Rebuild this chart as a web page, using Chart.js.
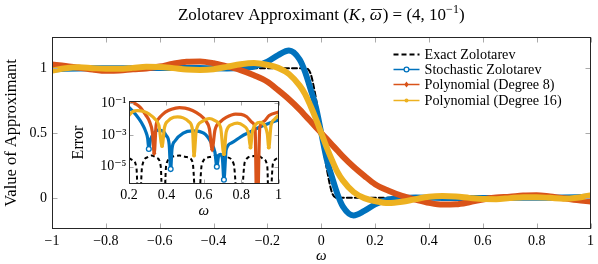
<!DOCTYPE html>
<html><head><meta charset="utf-8">
<script src="https://cdn.jsdelivr.net/npm/chart.js@4.4.0/dist/chart.umd.min.js"></script>
<style>
html,body{margin:0;padding:0;background:#fff;}
#wrap{position:relative;width:598px;height:264px;overflow:hidden;}
#main{position:absolute;left:0;top:0;width:598px;height:264px;}
#inset{position:absolute;left:66px;top:90px;width:219px;height:130px;}
</style></head><body>
<div id="wrap"><canvas id="main" width="598" height="264"></canvas><canvas id="inset" width="219" height="130"></canvas></div>
<script>
// ---------- data ----------
const seriesNames = ['Exact Zolotarev','Stochastic Zolotarev','Polynomial (Degree 8)','Polynomial (Degree 16)'];
// title pieces: [text, italic?, overline?, superscript?]
const titlePieces = [['Zolotarev Approximant (',0,0,0],['K',1,0,0],[', ',0,0,0],['\u03c9',1,1,0],[') = (4, 10',0,0,0],['\u22121',0,0,1],[')',0,0,0]];

const omegaMain = [-1,-0.95,-0.9,-0.85,-0.8,-0.75,-0.7,-0.65,-0.6,-0.55,-0.5,-0.45,-0.4,-0.35,-0.3,-0.25,-0.2,
  -0.16,-0.12,-0.08,-0.06,-0.04,-0.02,0,0.02,0.04,0.06,0.08,0.12,0.16,
  0.2,0.25,0.3,0.35,0.4,0.45,0.5,0.55,0.6,0.65,0.7,0.75,0.8,0.85,0.9,0.95,1];
const exactMain = [1,1,1,1,1,1,1,1,1,1,1,1,1,1,1,1,1,
  1,1,1,1,0.96,0.77,0.5,0.23,0.04,0,0,0,0,
  0,0,0,0,0,0,0,0,0,0,0,0,0,0,0,0,0];
const stochMain = [0.991,0.9944,0.997,0.9984,0.9992,0.9995,1.0,1.0003,1.0013,1.0018,1.0017,1.001,0.999,0.998,1.001,1.012,1.05,
  1.1,1.135,1.065,0.97,0.84,0.7,0.5,0.3,0.16,0.03,-0.065,-0.135,-0.1,
  -0.05,-0.012,-0.001,0.002,0.001,-0.001,-0.0017,-0.0018,-0.0013,-0.0003,0.0,0.0005,0.0008,0.0016,0.003,0.0056,0.009];
const poly8Main = [1.028,1.017,1.003,0.99,0.979,0.981,0.991,0.998,1.012,1.034,1.05,1.052,1.038,1.013,0.985,0.945,0.895,
  0.83,0.76,0.68,0.635,0.59,0.545,0.5,0.455,0.41,0.365,0.32,0.24,0.17,
  0.105,0.055,0.015,-0.013,-0.038,-0.052,-0.05,-0.034,-0.012,0.002,0.009,0.019,0.021,0.01,-0.003,-0.017,-0.028];
const poly16Main = [0.982,0.999,1.006,1.0,0.995,0.995,1.002,1.01,1.009,1.0,0.989,0.986,0.992,1.01,1.03,1.04,1.025,
  1.002,0.955,0.865,0.8,0.71,0.61,0.5,0.39,0.29,0.2,0.135,0.045,-0.002,
  -0.025,-0.04,-0.03,-0.01,0.008,0.014,0.011,0.0,-0.009,-0.01,-0.002,0.005,0.005,0.0,-0.006,0.001,0.018];

const mainXTicks = [-1,-0.8,-0.6,-0.4,-0.2,0,0.2,0.4,0.6,0.8,1];
const mainYTicks = [0,0.5,1];

// inset (error) data
const errOmegaExact = [0.2,0.22,0.24,0.253,0.27,0.3,0.32,0.35,0.37,0.382,0.4,0.44,0.47,0.51,0.54,0.565,0.59,0.63,0.67,0.72,0.76,0.79,0.82,0.86,0.89,0.92,0.94,0.95,0.97,1];
const errExact = [3.5e-5,2.5e-5,8e-6,1e-9,1e-5,4e-5,5e-5,3.5e-5,1e-5,1e-9,1.5e-5,4.5e-5,5e-5,4e-5,2e-5,1e-9,1.5e-5,4e-5,5e-5,4e-5,1.5e-5,1e-9,2e-5,4.5e-5,5e-5,3e-5,1e-5,1e-9,1.5e-5,3.5e-5];
const errOmegaStoch = [0.2,0.22,0.24,0.26,0.275,0.29,0.3,0.306,0.315,0.33,0.355,0.38,0.4,0.415,0.423,0.43,0.445,0.49,0.54,0.6,0.64,0.66,0.67,0.68,0.69,0.7,0.708,0.72,0.75,0.8,0.85,0.9,0.95,1];
const errStoch = [5.6e-2,3.2e-2,1.7e-2,8e-3,4e-3,1.6e-3,6e-4,1.3e-4,5e-4,1.1e-3,2e-3,1.8e-3,9e-4,2.5e-4,7e-6,1.3e-4,4e-4,1.3e-3,1.8e-3,1.3e-3,3.2e-4,8e-5,1e-5,5e-5,6e-5,3e-5,1.5e-6,1.2e-4,3.2e-4,8e-4,1.6e-3,3.2e-3,5.6e-3,9e-3];
const errOmegaPoly8 = [0.2,0.23,0.26,0.29,0.31,0.325,0.335,0.345,0.36,0.38,0.41,0.45,0.47,0.5,0.54,0.58,0.61,0.63,0.645,0.66,0.69,0.72,0.77,0.8,0.83,0.86,0.875,0.885,0.9,0.92,0.95,1];
const errPoly8 = [0.16,0.1,0.056,0.018,0.007,0.0015,7e-5,0.004,0.011,0.02,0.035,0.05,0.053,0.05,0.035,0.018,0.008,0.0025,1.2e-4,0.002,0.007,0.013,0.021,0.02,0.014,0.006,0.002,1e-9,0.003,0.007,0.017,0.028];
const errOmegaPoly16 = [0.2,0.22,0.245,0.28,0.31,0.34,0.36,0.377,0.39,0.41,0.44,0.46,0.49,0.52,0.54,0.548,0.56,0.59,0.63,0.66,0.69,0.708,0.72,0.75,0.78,0.81,0.84,0.85,0.86,0.88,0.9,0.92,0.94,0.948,0.96,0.98,1];
const errPoly16 = [0.017,0.03,0.035,0.03,0.02,0.01,0.004,2e-4,0.003,0.008,0.013,0.014,0.012,0.007,0.002,5e-5,0.002,0.007,0.011,0.008,0.003,6e-5,0.0015,0.0045,0.0056,0.004,0.0012,1.6e-4,0.0015,0.005,0.0063,0.005,0.0012,1.6e-4,0.004,0.01,0.018];

const errXTicks = [0.2,0.4,0.6,0.8,1];
const errYTicks = [1e-5,1e-3,1e-1];
const errYTickLabels = ['10\u207b\u2075','10\u207b\u00b3','10\u207b\u00b9'];

// ---------- helpers ----------
const FONT = "'Liberation Serif','DejaVu Serif',serif";
const C_BLUE = '#0072BD', C_RED = '#D95319', C_YEL = '#EDB120';
const pairs = (xs, ys) => xs.map((x, i) => ({x, y: ys[i]}));
const fmtTick = v => { const r = Math.round(v * 10) / 10; return r < 0 ? '\u2212' + String(-r) : String(r); };

const titlePlugin = {
  id: 'mathTitle',
  afterDraw(chart) {
    const {ctx, chartArea: a} = chart;
    const size = 17, supSize = 12, baseY = 20;
    const fontOf = (it, sup) => (it ? 'italic ' : '') + (sup ? supSize : size) + 'px ' + FONT;
    ctx.save();
    let total = 0;
    const widths = titlePieces.map(p => { ctx.font = fontOf(p[1], p[3]); const w = ctx.measureText(p[0]).width + (p[1] ? 1 : 0); total += w; return w; });
    let x = (a.left + a.right) / 2 - total / 2;
    ctx.fillStyle = '#000'; ctx.textBaseline = 'alphabetic'; ctx.textAlign = 'left';
    titlePieces.forEach((p, i) => {
      ctx.font = fontOf(p[1], p[3]);
      const y = p[3] ? baseY - 7 : baseY;
      ctx.fillText(p[0], x, y);
      if (p[2]) {
        ctx.strokeStyle = '#000'; ctx.lineWidth = 0.9;
        ctx.beginPath(); ctx.moveTo(x + 1.5, baseY - 10.5); ctx.lineTo(x + widths[i] - 0.5, baseY - 10.5); ctx.stroke();
      }
      x += widths[i];
    });
    ctx.restore();
  }
};

const framePlugin = {
  id: 'frame',
  beforeDraw(chart, args, opts) {
    if (opts.fill) {
      const a = chart.chartArea, ctx = chart.ctx;
      ctx.save(); ctx.fillStyle = '#fff';
      ctx.fillRect(a.left, a.top, a.right - a.left, a.bottom - a.top);
      ctx.restore();
    }
  },
  afterDraw(chart, args, opts) {
    const a = chart.chartArea, ctx = chart.ctx;
    const L = Math.round(a.left) + 0.5, R = Math.round(a.right) - 0.5, T = Math.round(a.top) + 0.5, B = Math.round(a.bottom) - 0.5;
    ctx.save();
    ctx.strokeStyle = '#aaaaaa'; ctx.lineWidth = 1;
    const tl = opts.tickLen || 5;
    const xs = chart.scales.x, ys = chart.scales.y;
    ctx.beginPath();
    xs.ticks.forEach(t => {
      const px = Math.round(xs.getPixelForValue(t.value)) + 0.5;
      ctx.moveTo(px, B); ctx.lineTo(px, B - tl);
      ctx.moveTo(px, T); ctx.lineTo(px, T + tl);
    });
    ys.ticks.forEach(t => {
      const py = Math.round(ys.getPixelForValue(t.value)) + 0.5;
      ctx.moveTo(L, py); ctx.lineTo(L + tl, py);
      ctx.moveTo(R, py); ctx.lineTo(R - tl, py);
    });
    ctx.stroke();
    ctx.strokeStyle = '#262626'; ctx.lineWidth = 1;
    ctx.strokeRect(L, T, R - L, B - T);
    ctx.restore();
  }
};

function drawMarker(ctx, style, x, y, color) {
  ctx.save();
  ctx.setLineDash([]);
  if (style === 'ocircle') {
    ctx.beginPath(); ctx.arc(x, y, 2.4, 0, Math.PI * 2);
    ctx.fillStyle = '#fff'; ctx.fill(); ctx.strokeStyle = color; ctx.lineWidth = 1.3; ctx.stroke();
  } else if (style === 'diamond') {
    ctx.beginPath(); ctx.moveTo(x, y - 3); ctx.lineTo(x + 2.2, y); ctx.lineTo(x, y + 3); ctx.lineTo(x - 2.2, y); ctx.closePath();
    ctx.fillStyle = color; ctx.fill();
  } else if (style === 'dot') {
    ctx.beginPath(); ctx.arc(x, y, 2, 0, Math.PI * 2); ctx.fillStyle = color; ctx.fill();
  }
  ctx.restore();
}
const markerStyles = [null, 'ocircle', 'diamond', 'dot'];

const legendPlugin = {
  id: 'insideLegend',
  afterDraw(chart) {
    const {ctx, chartArea: a} = chart;
    const x0 = a.right - 197, x1 = a.right - 171, tx = a.right - 166;
    chart.data.datasets.forEach((ds, i) => {
      const y = Math.round(a.top + 17 + i * 15.2) + 0.5;
      ctx.save();
      ctx.strokeStyle = ds.borderColor;
      ctx.lineWidth = i === 0 ? 2 : 1.5;
      ctx.setLineDash(i === 0 ? [5, 3] : []);
      ctx.beginPath(); ctx.moveTo(x0, y); ctx.lineTo(x1, y); ctx.stroke();
      if (markerStyles[i]) drawMarker(ctx, markerStyles[i], (x0 + x1) / 2, y, ds.borderColor);
      ctx.fillStyle = '#000';
      ctx.font = '14.2px ' + FONT;
      ctx.textBaseline = 'middle';
      ctx.fillText(ds.label, tx, y + 0.5);
      ctx.restore();
    });
  }
};

const cuspPlugin = {
  id: 'cusps',
  afterDatasetsDraw(chart) {
    const ctx = chart.ctx, xs = chart.scales.x, ys = chart.scales.y, a = chart.chartArea;
    ctx.save();
    ctx.beginPath(); ctx.rect(a.left, a.top, a.right - a.left, a.bottom - a.top); ctx.clip();
    chart.data.datasets.forEach((ds, i) => {
      if (!markerStyles[i]) return;
      const d = ds.data;
      for (let k = 1; k < d.length - 1; k++) {
        if (d[k].y < d[k - 1].y && d[k].y < d[k + 1].y && d[k].y > ys.min) {
          drawMarker(ctx, markerStyles[i], xs.getPixelForValue(d[k].x), ys.getPixelForValue(d[k].y), ds.borderColor);
        }
      }
    });
    ctx.restore();
  }
};

const tickFont = {family: FONT, size: 14};

// ---------- main chart ----------
new Chart(document.getElementById('main'), {
  type: 'line',
  data: {datasets: [
    {label: seriesNames[0], data: pairs(omegaMain, exactMain), borderColor: '#000', borderWidth: 2, borderDash: [5, 3], order: 4},
    {label: seriesNames[1], data: pairs(omegaMain, stochMain), borderColor: C_BLUE, borderWidth: 6, order: 3},
    {label: seriesNames[2], data: pairs(omegaMain, poly8Main), borderColor: C_RED, borderWidth: 6, order: 2},
    {label: seriesNames[3], data: pairs(omegaMain, poly16Main), borderColor: C_YEL, borderWidth: 6, order: 1}
  ]},
  options: {
    responsive: false, animation: false, devicePixelRatio: 1,
    elements: {point: {radius: 0}, line: {cubicInterpolationMode: 'monotone', borderCapStyle: 'round', borderJoinStyle: 'round'}},
    layout: {padding: {left: 0, right: 6, top: 37, bottom: 0}},
    plugins: {
      legend: {display: false}, tooltip: {enabled: false}, title: {display: false},
      frame: {tickLen: 5}
    },
    scales: {
      x: {type: 'linear', min: -1, max: 1,
        afterBuildTicks: s => { s.ticks = mainXTicks.map(v => ({value: v})); },
        afterFit: s => { s.height = 35; },
        ticks: {callback: fmtTick, font: tickFont, color: '#000', padding: 4, maxRotation: 0, autoSkip: false},
        grid: {display: false, drawTicks: false}, border: {display: false},
        title: {display: true, text: '\u03c9', color: '#000', font: {family: FONT, size: 15, style: 'italic'}, padding: {top: 0, bottom: -1}}},
      y: {type: 'linear', min: -0.24, max: 1.24,
        afterBuildTicks: s => { s.ticks = mainYTicks.map(v => ({value: v})); },
        afterFit: s => { s.width = 52; },
        ticks: {callback: fmtTick, font: tickFont, color: '#000', padding: 5},
        grid: {display: false, drawTicks: false}, border: {display: false},
        title: {display: true, text: 'Value of Approximant', color: '#000', font: {family: FONT, size: 16.5}, padding: {top: 2, bottom: 0}}}
    }
  },
  plugins: [framePlugin, legendPlugin, titlePlugin]
});

// ---------- inset chart ----------
new Chart(document.getElementById('inset'), {
  type: 'line',
  data: {datasets: [
    {label: seriesNames[0], data: pairs(errOmegaExact, errExact), borderColor: '#000', borderWidth: 2, borderDash: [4, 3], order: 4},
    {label: seriesNames[1], data: pairs(errOmegaStoch, errStoch), borderColor: C_BLUE, borderWidth: 3.2, order: 3},
    {label: seriesNames[2], data: pairs(errOmegaPoly8, errPoly8), borderColor: C_RED, borderWidth: 3.2, order: 2},
    {label: seriesNames[3], data: pairs(errOmegaPoly16, errPoly16), borderColor: C_YEL, borderWidth: 3.2, order: 1}
  ]},
  options: {
    responsive: false, animation: false, devicePixelRatio: 1,
    elements: {point: {radius: 0}, line: {cubicInterpolationMode: 'monotone'}},
    layout: {padding: {left: 0, right: 5, top: 11, bottom: 0}},
    plugins: {legend: {display: false}, tooltip: {enabled: false}, frame: {fill: true, tickLen: 4}},
    scales: {
      x: {type: 'linear', min: 0.2, max: 1,
        afterBuildTicks: s => { s.ticks = errXTicks.map(v => ({value: v})); },
        afterFit: s => { s.height = 36; },
        ticks: {callback: fmtTick, font: tickFont, color: '#000', padding: 3, maxRotation: 0, autoSkip: false},
        grid: {display: false, drawTicks: false}, border: {display: false},
        title: {display: true, text: '\u03c9', color: '#000', font: {family: FONT, size: 15, style: 'italic'}, padding: {top: 0, bottom: 0}}},
      y: {type: 'logarithmic', min: 8e-7, max: 0.14,
        afterBuildTicks: s => { s.ticks = errYTicks.map(v => ({value: v})); },
        afterFit: s => { s.width = 63; },
        ticks: {callback: (v) => errYTickLabels[errYTicks.indexOf(v)] ?? '', font: tickFont, color: '#000', padding: 2.5},
        grid: {display: false, drawTicks: false}, border: {display: false},
        title: {display: true, text: 'Error', color: '#000', font: {family: FONT, size: 16}, padding: {top: 3.5, bottom: 0}}}
    }
  },
  plugins: [framePlugin, cuspPlugin]
});
</script>
</body></html>
